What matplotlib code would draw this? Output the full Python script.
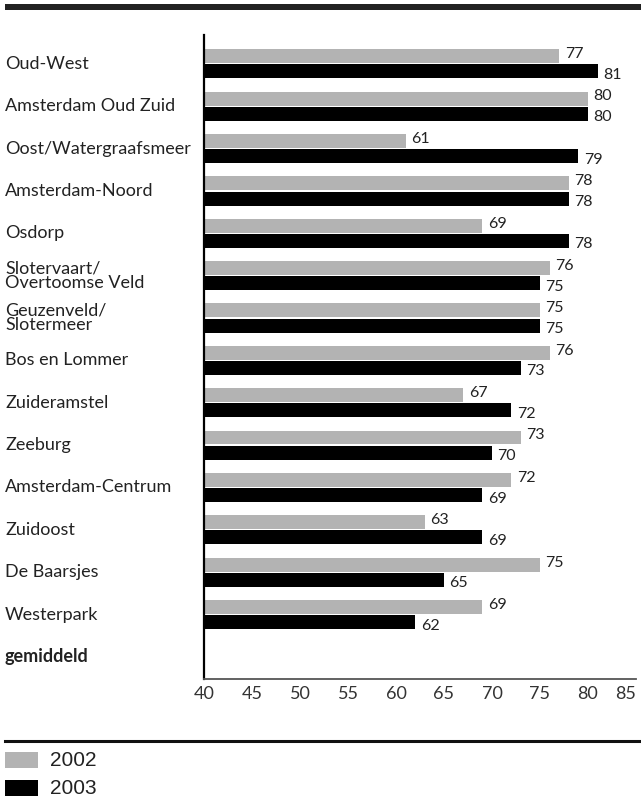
import numpy as np
import matplotlib
matplotlib.use('Agg')
import matplotlib.pyplot as plt
from matplotlib.patches import Rectangle
from matplotlib.lines import Line2D

# data
stadsdelen = ['Oud-West', 'Amsterdam Oud Zuid', 'Oost/Watergraafsmeer', 'Amsterdam-Noord',
              'Osdorp', 'Slotervaart/\nOvertoomse Veld', 'Geuzenveld/\nSlotermeer',
              'Bos en Lommer', 'Zuideramstel', 'Zeeburg', 'Amsterdam-Centrum',
              'Zuidoost', 'De Baarsjes', 'Westerpark', 'gemiddeld']
waarden_2002 = [77, 80, 61, 78, 69, 76, 75, 76, 67, 73, 72, 63, 75, 69]
waarden_2003 = [81, 80, 79, 78, 78, 75, 75, 73, 72, 70, 69, 69, 65, 62]
jaren = ['2002', '2003']
x_ticks = [40, 45, 50, 55, 60, 65, 70, 75, 80, 85]

GRIJS = '#b3b3b3'
ZWART = '#000000'
FONT = 'Lato'

W, H = 641, 798
fig = plt.figure(figsize=(W / 100, H / 100), dpi=100)
ax = fig.add_axes([204 / W, 1 - 679 / H, (636 - 204) / W, (679 - 35) / H])

n = len(waarden_2002)
y = np.arange(n)
h = 0.33
off = 0.18
ax.barh(y - off, np.array(waarden_2002) - 40, left=40, height=h, color=GRIJS, edgecolor='none')
ax.barh(y + off, np.array(waarden_2003) - 40, left=40, height=h, color=ZWART, edgecolor='none')

for i in range(n):
    ax.annotate(str(waarden_2002[i]), (waarden_2002[i], y[i] - off), xytext=(4, 1.5),
                textcoords='offset points', va='center', ha='left', fontsize=11.5,
                family=FONT, color='#222222')
    ax.annotate(str(waarden_2003[i]), (waarden_2003[i], y[i] + off), xytext=(4, -2.5),
                textcoords='offset points', va='center', ha='left', fontsize=11.5,
                family=FONT, color='#222222')

ax.set_xlim(40, 85)
ax.set_ylim(len(stadsdelen) - 1 + 0.52, -0.68)
ax.set_xticks(x_ticks)
ax.set_xticklabels([str(t) for t in x_ticks], fontsize=13, family=FONT, color='#333333')
ax.get_xticklabels()[-1].set_horizontalalignment('right')
ax.tick_params(axis='x', length=0, pad=5)
ax.set_yticks([])

for s in ['top', 'right']:
    ax.spines[s].set_visible(False)
ax.spines['left'].set_color('black')
ax.spines['left'].set_linewidth(1.6)
ax.spines['bottom'].set_color('#555555')
ax.spines['bottom'].set_linewidth(1.3)

# category labels, left aligned at the figure edge
for i, lab in enumerate(stadsdelen):
    ax.text(-199 / 432 * 45 + 40, i, lab, transform=ax.transData, ha='left', va='center',
            fontsize=13, family=FONT, color='#222222', linespacing=0.85,
            fontweight='bold' if lab == 'gemiddeld' else 'normal', clip_on=False)

# top thick rule and bottom rule
fig.add_artist(Rectangle((5 / W, 1 - 9.5 / H), 1 - 5 / W, 5.5 / H, transform=fig.transFigure,
                         color='#222222', lw=0))
fig.add_artist(Line2D([5 / W, 1], [1 - 741 / H] * 2, transform=fig.transFigure,
                      color='#111111', lw=2.2))

# legend
for k, (jaar, kleur) in enumerate(zip(jaren, [GRIJS, ZWART])):
    yc = 760 + k * 28
    fig.add_artist(Rectangle((5 / W, 1 - (yc + 8) / H), 33 / W, 16 / H,
                             transform=fig.transFigure, color=kleur, lw=0))
    fig.text(50 / W, 1 - yc / H, jaar, ha='left', va='center', fontsize=15,
             family='Liberation Sans', color='#222222')

fig.savefig('out.png', dpi=100)
